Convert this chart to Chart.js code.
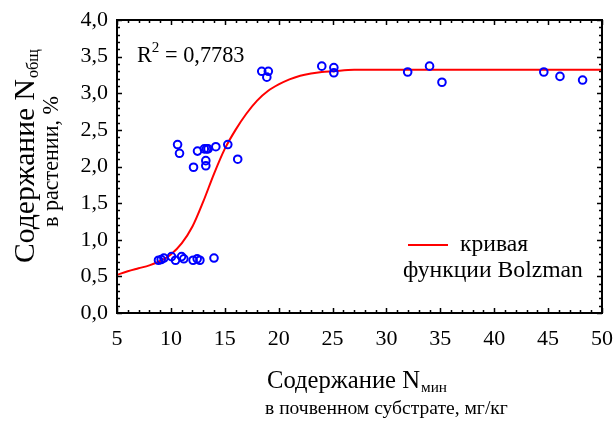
<!DOCTYPE html>
<html><head><meta charset="utf-8">
<script src="https://cdn.jsdelivr.net/npm/chart.js@4"></script>
<style>html,body{margin:0;padding:0;background:#fff;} canvas{display:block;}</style>
</head><body>
<canvas id="c" width="614" height="425"></canvas>
<script>
// Measured points: N min in substrate (mg/kg) vs N total in plant (%)
const pointsX = [8.85, 9.1, 9.35, 10.06, 10.43, 10.99, 11.2, 12.06, 12.44, 12.69, 14.0,
                 10.62, 10.8, 12.1, 12.47, 13.1, 13.3, 13.45, 13.24, 13.24, 14.17, 15.28, 16.2,
                 18.43, 19.04, 18.9, 24.0, 25.12, 25.12, 31.97, 34.0, 35.15, 44.6, 46.1, 48.2];
const pointsY = [0.72, 0.73, 0.75, 0.77, 0.72, 0.77, 0.74, 0.72, 0.74, 0.72, 0.75,
                 2.30, 2.18, 1.99, 2.21, 2.24, 2.24, 2.24, 2.08, 2.01, 2.27, 2.30, 2.10,
                 3.30, 3.30, 3.22, 3.37, 3.35, 3.28, 3.29, 3.37, 3.15, 3.29, 3.23, 3.18];
// Boltzmann curve
const curveX = [5, 6, 7, 8, 9, 10, 11, 12, 13, 14, 15, 16, 17, 18, 19, 20, 21, 22, 23, 24, 25, 27, 30, 35, 40, 45, 50];
const curveY = [0.52, 0.57, 0.61, 0.65, 0.71, 0.80, 0.95, 1.18, 1.52, 1.90, 2.24, 2.50, 2.72, 2.90, 3.03, 3.12, 3.19, 3.24, 3.27, 3.29, 3.30, 3.32, 3.32, 3.32, 3.32, 3.32, 3.32];
const xTickValues = [5, 10, 15, 20, 25, 30, 35, 40, 45, 50];
const yTickValues = [0, 0.5, 1, 1.5, 2, 2.5, 3, 3.5, 4];
const r2Text = "0,7783";
const legendLine1 = "кривая";
const legendLine2 = "функции Bolzman";
const yTitle1 = "Содержание N", yTitle1Sub = "общ", yTitle2 = "в растении, %";
const xTitle1 = "Содержание N", xTitle1Sub = "мин", xTitle2 = "в почвенном субстрате, мг/кг";

const FONT = "'Liberation Serif', 'Times New Roman', serif";

function fitSize(ctx, text, targetW) {
  ctx.font = '100px ' + FONT;
  const w = ctx.measureText(text).width;
  return 100 * targetW / w;
}

const decor = {
  id: 'decor',
  afterDraw(chart) {
    const ctx = chart.ctx;
    const xs = chart.scales.x, ys = chart.scales.y;
    const a = chart.chartArea;
    ctx.save();
    // frame
    ctx.strokeStyle = '#000';
    ctx.lineWidth = 2;
    ctx.strokeRect(a.left, a.top, a.right - a.left, a.bottom - a.top);
    // ticks inward
    ctx.lineWidth = 1.5;
    ctx.beginPath();
    for (let v = 5; v <= 50; v += 1) {
      const px = Math.round(xs.getPixelForValue(v)) + 0.5;
      const len = (v % 5 === 0) ? 5 : 3;
      ctx.moveTo(px, a.bottom); ctx.lineTo(px, a.bottom - len);
      ctx.moveTo(px, a.top); ctx.lineTo(px, a.top + len);
    }
    for (let i = 0; i <= 40; i++) {
      const v = i / 10;
      const py = Math.round(ys.getPixelForValue(v)) + 0.5;
      const len = (i % 5 === 0) ? 5 : 3;
      ctx.moveTo(a.left, py); ctx.lineTo(a.left + len, py);
      ctx.moveTo(a.right, py); ctx.lineTo(a.right - len, py);
    }
    ctx.stroke();

    ctx.fillStyle = '#000';
    ctx.textBaseline = 'alphabetic';
    ctx.textAlign = 'left';
    // R^2
    let s = fitSize(ctx, 'R = 0,7783', 100);
    ctx.font = s + 'px ' + FONT;
    ctx.fillText('R', 137, 62);
    let rw = ctx.measureText('R').width;
    ctx.font = (s * 0.68) + 'px ' + FONT;
    ctx.fillText('2', 137 + rw, 52);
    let w2 = ctx.measureText('2').width;
    ctx.font = s + 'px ' + FONT;
    ctx.fillText(' = ' + r2Text, 137 + rw + w2, 62);

    // legend
    ctx.strokeStyle = '#ff0000';
    ctx.lineWidth = 2;
    ctx.beginPath(); ctx.moveTo(408, 245); ctx.lineTo(448, 245); ctx.stroke();
    ctx.font = fitSize(ctx, legendLine2, 180) + 'px ' + FONT;
    ctx.fillText(legendLine1, 460, 251);
    ctx.fillText(legendLine2, 403, 277);

    // x title
    let sx1 = fitSize(ctx, xTitle1, 153);
    ctx.font = sx1 + 'px ' + FONT;
    ctx.fillText(xTitle1, 267, 388);
    let w1 = ctx.measureText(xTitle1).width;
    ctx.font = (sx1 * 0.62) + 'px ' + FONT;
    ctx.fillText(xTitle1Sub, 267 + w1 + 1, 392);
    ctx.font = fitSize(ctx, xTitle2, 243) + 'px ' + FONT;
    ctx.fillText(xTitle2, 265, 414);

    // y title (rotated)
    ctx.save();
    ctx.translate(34, 263);
    ctx.rotate(-Math.PI / 2);
    let sy1 = fitSize(ctx, yTitle1, 184);
    ctx.font = sy1 + 'px ' + FONT;
    ctx.fillText(yTitle1, 0, 0);
    let wy = ctx.measureText(yTitle1).width;
    ctx.font = (sy1 * 0.55) + 'px ' + FONT;
    ctx.fillText(yTitle1Sub, wy + 1, 4);
    ctx.restore();
    ctx.save();
    ctx.translate(58, 227);
    ctx.rotate(-Math.PI / 2);
    ctx.font = fitSize(ctx, yTitle2, 131) + 'px ' + FONT;
    ctx.fillText(yTitle2, 0, 0);
    ctx.restore();
    ctx.restore();
  }
};

new Chart(document.getElementById('c'), {
  type: 'scatter',
  data: {
    datasets: [
      {
        label: 'data',
        data: pointsX.map((x, i) => ({x: x, y: pointsY[i]})),
        borderColor: '#0000ff',
        backgroundColor: 'rgba(0,0,0,0)',
        pointRadius: 3.8,
        pointBorderWidth: 2,
        showLine: false
      },
      {
        label: 'кривая функции Bolzman',
        data: curveX.map((x, i) => ({x: x, y: curveY[i]})),
        borderColor: '#ff0000',
        borderWidth: 2,
        pointRadius: 0,
        showLine: true,
        cubicInterpolationMode: 'monotone'
      }
    ]
  },
  options: {
    responsive: false,
    animation: false,
    devicePixelRatio: 1,
    layout: { padding: { top: 20, right: 12, left: 0, bottom: 0 } },
    plugins: { legend: { display: false }, tooltip: { enabled: false } },
    scales: {
      x: {
        type: 'linear', min: 5, max: 50,
        afterFit: s => { s.height = 112; s.paddingRight = 0; s.paddingLeft = 0; },
        afterBuildTicks: s => { s.ticks = xTickValues.map(v => ({value: v})); },
        ticks: { color: '#000', font: { family: FONT, size: 22 }, padding: 13, maxRotation: 0,
                 callback: v => String(v) },
        grid: { display: false, drawTicks: false },
        border: { display: false }
      },
      y: {
        type: 'linear', min: 0, max: 4,
        afterFit: s => { s.width = 117; s.paddingTop = 0; s.paddingBottom = 0; },
        afterBuildTicks: s => { s.ticks = yTickValues.map(v => ({value: v})); },
        ticks: { color: '#000', font: { family: FONT, size: 22 }, padding: 9,
                 callback: v => v.toFixed(1).replace('.', ',') },
        grid: { display: false, drawTicks: false },
        border: { display: false }
      }
    }
  },
  plugins: [decor]
});
</script>
</body></html>
